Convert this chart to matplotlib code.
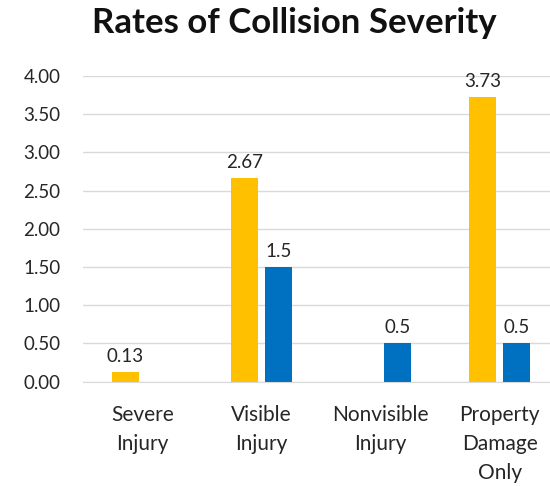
import numpy as np
import matplotlib.pyplot as plt

categories = ["Severe\nInjury", "Visible\nInjury", "Nonvisible\nInjury", "Property\nDamage\nOnly"]
series_a = [0.13, 2.67, None, 3.73]
series_b = [None, 1.5, 0.5, 0.5]
labels_a = ["0.13", "2.67", "", "3.73"]
labels_b = ["", "1.5", "0.5", "0.5"]
yticks = [0.0, 0.5, 1.0, 1.5, 2.0, 2.5, 3.0, 3.5, 4.0]

COLOR_A = "#FFC000"
COLOR_B = "#0070C0"

plt.rcParams["font.family"] = ["Lato", "DejaVu Sans"]

fig = plt.figure(figsize=(5.5, 4.86), dpi=100)
# plot area runs slightly past the right edge of the image, as in the original
ax = fig.add_axes([0.1505, 0.215, 0.8663, 0.6286])

x = np.arange(len(categories))
w = 0.222
off = 0.143
for xs, vals, labs, col, sign in [(x, series_a, labels_a, COLOR_A, -1),
                                  (x, series_b, labels_b, COLOR_B, 1)]:
    for xi, v, lab in zip(xs, vals, labs):
        if v is None:
            continue
        ax.bar(xi + sign * off, v, width=w, color=col, zorder=3)
        ax.annotate(lab, xy=(xi + sign * off, v), xytext=(0, 5),
                    textcoords="offset points", ha="center", va="bottom",
                    fontsize=13.5, color="#262626")

ax.set_xlim(-0.5, len(categories) - 0.5)
ax.set_ylim(0, 4.0)
ax.set_yticks(yticks)
ax.set_yticklabels([f"{t:.2f}" for t in yticks], fontsize=13.5, color="#262626")
ax.set_xticks(x)
ax.set_xticklabels(categories, fontsize=15, color="#262626", linespacing=1.55)
ax.tick_params(axis="both", length=0)
ax.tick_params(axis="x", pad=17)
ax.tick_params(axis="y", pad=16)
ax.yaxis.grid(True, color="#D9D9D9", linewidth=1.0, zorder=0)
for s in ["top", "right", "left"]:
    ax.spines[s].set_visible(False)
ax.spines["bottom"].set_color("#D9D9D9")
ax.spines["bottom"].set_zorder(4)

fig.suptitle("Rates of Collision Severity", x=0.535, y=0.985, fontsize=25,
             fontweight="bold", color="#111111")

fig.savefig("out.png", dpi=100)
